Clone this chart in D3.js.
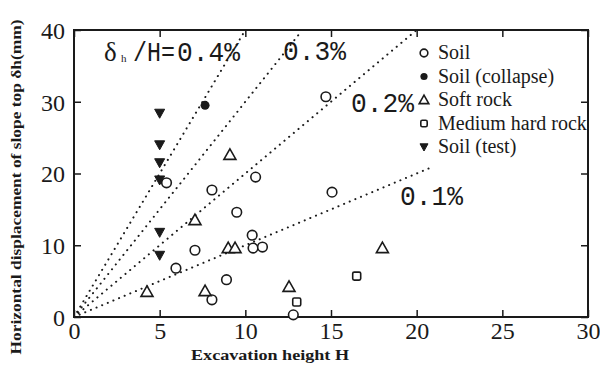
<!DOCTYPE html>
<html><head><meta charset="utf-8">
<script src="https://cdn.jsdelivr.net/npm/d3@7"></script>
<style>body{margin:0;background:#fff}svg{display:block}</style>
</head><body>
<svg id="c" width="600" height="368"></svg>
<script>
// ---- data ----
const xTicks = [0, 5, 10, 15, 20, 25, 30];
const yTicks = [0, 10, 20, 30, 40];
const soil = [[5.4,18.7],[8.05,17.7],[9.5,14.6],[10.6,19.5],[10.4,11.4],[10.45,9.6],[11.0,9.75],[7.06,9.3],[5.95,6.8],[8.9,5.2],[8.05,2.4],[15.06,17.4],[12.8,0.3],[14.7,30.7]];
const soilCollapse = [[7.65,29.5]];
const softRock = [[9.1,22.6],[7.06,13.5],[9.0,9.6],[9.4,9.6],[4.26,3.5],[7.65,3.6],[12.55,4.2],[18.0,9.6]];
const mediumHardRock = [[13.0,2.1],[16.5,5.7]];
const soilTest = [[5,28.4],[5,24.0],[5,21.5],[5,19.1],[5,11.8],[5,8.6]];
const ratioValues = [0.4, 0.3, 0.2, 0.1];
const ratioEnds = [10, 13.2, 20, 21];
const ratioLabels = ["0.4%", "0.3%", "0.2%", "0.1%"];
const legendNames = ["Soil","Soil (collapse)","Soft rock","Medium hard rock","Soil (test)"];

// ---- layout ----
const svg = d3.select("#c");
const L=74, R=588, T=30, B=317;
const x = d3.scaleLinear().domain([0,30]).range([L,R]);
const y = d3.scaleLinear().domain([0,40]).range([B,T]);
const ink = "#1a1a1a";
const serif = "'Liberation Serif','Times New Roman',serif";
const mono = "'Liberation Mono','DejaVu Sans Mono',monospace";

// dotted ratio lines (δ mm = ratio% * H m * 10)
ratioValues.forEach((r,i)=>{
  svg.append("line")
    .attr("x1",x(0)).attr("y1",y(0))
    .attr("x2",x(ratioEnds[i])).attr("y2",y(ratioEnds[i]*r*10))
    .attr("stroke",ink).attr("stroke-width",2)
    .attr("stroke-dasharray","0.1 6").attr("stroke-linecap","round");
});

// frame
svg.append("rect").attr("x",L).attr("y",T).attr("width",R-L).attr("height",B-T)
  .attr("fill","none").attr("stroke",ink).attr("stroke-width",2);

// axes with inward ticks
const gx = svg.append("g").attr("transform",`translate(0,${B})`)
  .call(d3.axisBottom(x).tickValues(xTicks).tickSize(-7).tickPadding(8).tickFormat(d3.format("d")));
const gxt = svg.append("g").attr("transform",`translate(0,${T})`)
  .call(d3.axisTop(x).tickValues(xTicks).tickSize(-7).tickFormat(""));
const gy = svg.append("g").attr("transform",`translate(${L},0)`)
  .call(d3.axisLeft(y).tickValues(yTicks).tickSize(-7).tickPadding(9).tickFormat(d3.format("d")));
const gyr = svg.append("g").attr("transform",`translate(${R},0)`)
  .call(d3.axisRight(y).tickValues(yTicks).tickSize(-7).tickFormat(""));
[gx,gxt,gy,gyr].forEach(g=>{
  g.select(".domain").remove();
  g.selectAll(".tick line").attr("stroke",ink).attr("stroke-width",1.5);
  g.selectAll("text").attr("fill",ink).style("font-family",serif).style("font-size","24px");
});
gx.selectAll("text").attr("dy","0.6em");
gy.selectAll("text").attr("dy","0.35em");

// axis titles
svg.append("text").attr("x",270).attr("y",360).attr("text-anchor","middle")
  .style("font-family",serif).style("font-weight","bold").style("font-size","15px").attr("fill",ink)
  .attr("textLength",158).attr("lengthAdjust","spacingAndGlyphs")
  .text("Excavation height H");
svg.append("text").attr("transform",`translate(21,187) rotate(-90)`).attr("text-anchor","middle")
  .style("font-family",serif).style("font-weight","bold").style("font-size","15.5px").attr("fill",ink)
  .attr("textLength",335).attr("lengthAdjust","spacingAndGlyphs")
  .text("Horizontal displacement of slope top δh(mm)");

// ratio labels
const labPos = [[177,61],[283,60],[351,112],[400,205]];
ratioLabels.forEach((lab,i)=>{
  svg.append("text").attr("x",labPos[i][0]).attr("y",labPos[i][1])
    .style("font-family",mono).style("font-size","27px").attr("fill",ink)
    .attr("textLength",63).attr("lengthAdjust","spacingAndGlyphs")
    .text(lab);
});
// "δh /H=" prefix of the 0.4% label
svg.append("text").attr("x",104).attr("y",61).attr("fill",ink)
  .style("font-family",serif).style("font-size","27px").text("δ");
svg.append("text").attr("x",121).attr("y",62).attr("fill",ink)
  .style("font-family",serif).style("font-size","11px").text("h");
svg.append("text").attr("x",133).attr("y",61).attr("fill",ink)
  .style("font-family",mono).style("font-size","27px")
  .attr("textLength",42).attr("lengthAdjust","spacingAndGlyphs").text("/H=");

// markers
const sym = {
  soil:(g,cx,cy,s)=>g.append("circle").attr("cx",cx).attr("cy",cy).attr("r",4.8*s).attr("fill","#fff").attr("stroke",ink).attr("stroke-width",1.6),
  collapse:(g,cx,cy,s)=>g.append("circle").attr("cx",cx).attr("cy",cy).attr("r",4.5*s).attr("fill",ink),
  soft:(g,cx,cy,s)=>g.append("path").attr("d",`M${cx},${cy-6*s}L${cx+6*s},${cy+4.5*s}L${cx-6*s},${cy+4.5*s}Z`).attr("fill","#fff").attr("stroke",ink).attr("stroke-width",1.6),
  med:(g,cx,cy,s)=>g.append("rect").attr("x",cx-4*s).attr("y",cy-4*s).attr("width",8*s).attr("height",8*s).attr("rx",1.5).attr("fill","#fff").attr("stroke",ink).attr("stroke-width",1.6),
  test:(g,cx,cy,s)=>g.append("path").attr("d",`M${cx-5*s},${cy-4*s}L${cx+5*s},${cy-4*s}L${cx},${cy+5*s}Z`).attr("fill",ink).attr("stroke",ink).attr("stroke-width",1)
};
const pts = svg.append("g");
soil.forEach(d=>sym.soil(pts,x(d[0]),y(d[1]),1));
soilCollapse.forEach(d=>sym.collapse(pts,x(d[0]),y(d[1]),1));
softRock.forEach(d=>sym.soft(pts,x(d[0]),y(d[1]),1));
mediumHardRock.forEach(d=>sym.med(pts,x(d[0]),y(d[1]),1));
soilTest.forEach(d=>sym.test(pts,x(d[0]),y(d[1]),1));

// legend
const keys = ["soil","collapse","soft","med","test"];
const lg = svg.append("g");
legendNames.forEach((n,i)=>{
  const cy = 53 + i*23.5;
  sym[keys[i]](lg,424,cy,0.8);
  lg.append("text").attr("x",438).attr("y",cy+6).style("font-family",serif).style("font-size","20px").attr("fill",ink).text(n);
});
</script>
</body></html>
